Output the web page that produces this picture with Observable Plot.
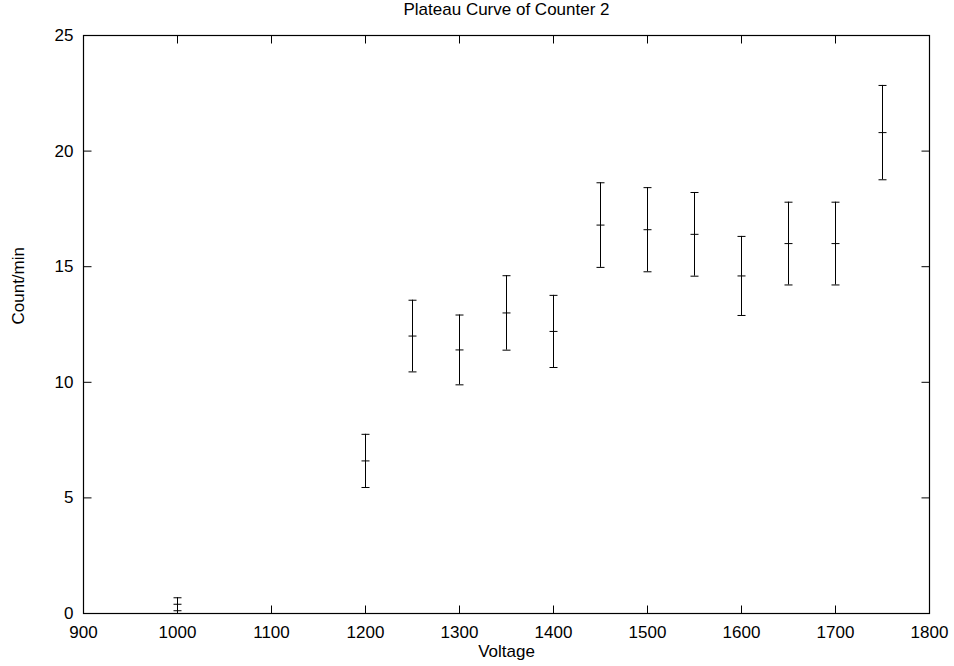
<!DOCTYPE html>
<html>
<head>
<meta charset="utf-8">
<script src="https://cdn.jsdelivr.net/npm/d3@7"></script>
<script src="https://cdn.jsdelivr.net/npm/@observablehq/plot@0.6"></script>
<style>
  html, body { margin: 0; padding: 0; background: #fff; }
</style>
</head>
<body>
<div id="chart"></div>
<script>
const voltage = [1000, 1200, 1250, 1300, 1350, 1400, 1450, 1500, 1550, 1600, 1650, 1700, 1750];
const rate    = [0.4, 6.6, 12.0, 11.4, 13.0, 12.2, 16.8, 16.6, 16.4, 14.6, 16.0, 16.0, 20.8];
const err     = [0.28, 1.15, 1.55, 1.51, 1.61, 1.56, 1.83, 1.82, 1.81, 1.71, 1.79, 1.79, 2.04];
const xTicks = [900, 1000, 1100, 1200, 1300, 1400, 1500, 1600, 1700, 1800];
const yTicks = [0, 5, 10, 15, 20, 25];
const title = "Plateau Curve of Counter 2";
const xLabel = "Voltage";
const yLabel = "Count/min";

const data = voltage.map((v, i) => ({v, r: rate[i], lo: rate[i] - err[i], hi: rate[i] + err[i]}));

const rOf = (size) => Math.sqrt(size / Math.PI);
const hLine = {draw(ctx, size) { const r = rOf(size); ctx.moveTo(-r, 0); ctx.lineTo(r, 0); }};
const tickUp = {draw(ctx, size) { ctx.moveTo(0, 0); ctx.lineTo(0, -rOf(size)); }};
const tickDown = {draw(ctx, size) { ctx.moveTo(0, 0); ctx.lineTo(0, rOf(size)); }};
const tickRight = {draw(ctx, size) { ctx.moveTo(0, 0); ctx.lineTo(rOf(size), 0); }};
const tickLeft = {draw(ctx, size) { ctx.moveTo(0, 0); ctx.lineTo(-rOf(size), 0); }};

const FS = 17;
const chart = Plot.plot({
  width: 954,
  height: 666,
  marginTop: 35,
  marginBottom: 53,
  marginLeft: 83,
  marginRight: 25,
  style: {fontFamily: "'Liberation Sans', Arial, Helvetica, sans-serif", fontSize: FS + "px", background: "#fff", color: "#000"},
  x: {domain: [900, 1800], ticks: xTicks, label: null},
  y: {domain: [0, 25], ticks: yTicks, label: null},
  marks: [
    Plot.axisX({ticks: xTicks, tickSize: 0, tickPadding: 12, fontSize: FS, tickFormat: d => String(d), label: null}),
    Plot.axisY({ticks: yTicks, tickSize: 0, tickPadding: 10, fontSize: FS, tickFormat: d => String(d), label: null}),
    Plot.dot(xTicks, {x: d => d, frameAnchor: "bottom", symbol: tickUp, r: 8, stroke: "#000", strokeWidth: 1}),
    Plot.dot(xTicks, {x: d => d, frameAnchor: "top", symbol: tickDown, r: 8, stroke: "#000", strokeWidth: 1}),
    Plot.dot(yTicks, {y: d => d, frameAnchor: "left", symbol: tickRight, r: 8, stroke: "#000", strokeWidth: 1}),
    Plot.dot(yTicks, {y: d => d, frameAnchor: "right", symbol: tickLeft, r: 8, stroke: "#000", strokeWidth: 1}),
    Plot.ruleX(data, {x: "v", y1: "lo", y2: "hi", stroke: "#000", strokeWidth: 1}),
    Plot.dot(data, {x: "v", y: "lo", symbol: hLine, r: 4, stroke: "#000", strokeWidth: 1}),
    Plot.dot(data, {x: "v", y: "hi", symbol: hLine, r: 4, stroke: "#000", strokeWidth: 1}),
    Plot.dot(data, {x: "v", y: "r", symbol: hLine, r: 4, stroke: "#000", strokeWidth: 1}),
    Plot.frame({stroke: "#000", strokeWidth: 1.2}),
    Plot.text([title], {frameAnchor: "top", lineAnchor: "middle", dy: -26, fontSize: FS, fill: "#000"}),
    Plot.text([xLabel], {frameAnchor: "bottom", lineAnchor: "middle", dy: 38, fontSize: FS, fill: "#000"}),
    Plot.text([yLabel], {frameAnchor: "left", lineAnchor: "middle", dx: -65, rotate: -90, fontSize: FS, fill: "#000"})
  ]
});
document.getElementById("chart").appendChild(chart);
</script>
</body>
</html>
